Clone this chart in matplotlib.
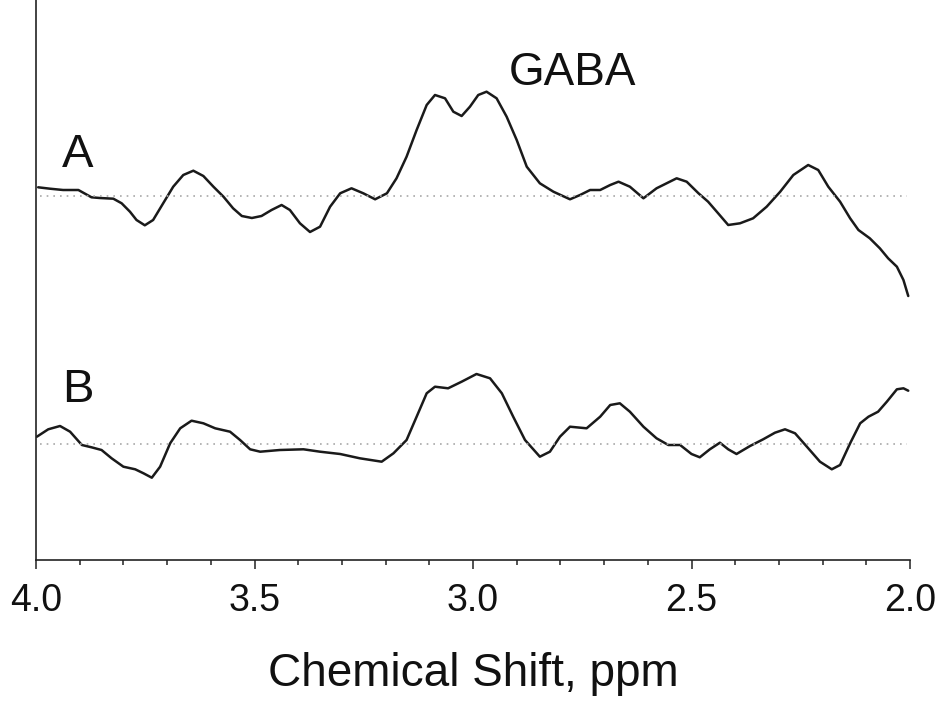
import matplotlib
matplotlib.use("Agg")
import matplotlib.pyplot as plt
import numpy as np
from matplotlib.ticker import MultipleLocator

# ---- data (chemical shift in ppm, intensity in arbitrary units relative to each baseline) ----
ppm_a = [3.995, 3.968, 3.938, 3.903, 3.873, 3.854, 3.823, 3.804, 3.785, 3.770,
         3.751, 3.732, 3.709, 3.686, 3.663, 3.640, 3.617, 3.594, 3.571, 3.549,
         3.529, 3.506, 3.484, 3.461, 3.438, 3.419, 3.396, 3.373,
         3.350, 3.327, 3.304, 3.278, 3.251, 3.224, 3.197, 3.175, 3.152, 3.129,
         3.106, 3.087, 3.064, 3.045, 3.026, 3.007, 2.988, 2.969, 2.946, 2.923,
         2.900, 2.877, 2.847, 2.816, 2.778, 2.755, 2.732, 2.709, 2.686, 2.667,
         2.641, 2.610, 2.580, 2.534, 2.511, 2.484, 2.462, 2.439, 2.416, 2.389,
         2.359, 2.328, 2.297, 2.267, 2.233, 2.210, 2.187, 2.160, 2.137, 2.118,
         2.092, 2.069, 2.050, 2.030, 2.015, 2.004]
amp_a = [8.7, 7.3, 6.0, 6.0, -1.3, -2.0, -2.7, -7.3, -15.7, -24.0,
         -29.3, -24.0, -7.3, 9.3, 21.0, 25.3, 20.0, 9.3, -0.7, -12.3,
         -20.0, -22.0, -20.0, -14.0, -9.0, -14.0, -27.3, -36.0,
         -30.7, -10.7, 2.7, 7.7, 2.7, -3.3, 2.7, 17.7, 39.3, 66.0,
         91.0, 101.0, 97.7, 84.3, 80.0, 89.3, 101.0, 104.3, 97.7, 79.3,
         56.0, 29.3, 12.7, 4.3, -3.3, 1.0, 6.0, 6.0, 11.0, 14.3,
         9.3, -2.3, 7.7, 17.7, 14.3, 2.7, -5.7, -17.3, -29.0, -27.3,
         -22.3, -10.7, 4.3, 21.0, 31.0, 26.0, 9.3, -5.7, -22.3, -34.0,
         -42.3, -52.3, -62.3, -70.7, -84.0, -100.0]

ppm_b = [3.998, 3.972, 3.945, 3.922, 3.895, 3.873, 3.850, 3.827, 3.800, 3.773,
         3.754, 3.735, 3.716, 3.693, 3.670, 3.644, 3.617, 3.590, 3.556, 3.533,
         3.510, 3.487, 3.442, 3.388,
         3.350, 3.304, 3.259, 3.209, 3.182, 3.152, 3.129, 3.106, 3.087, 3.057,
         3.026, 2.992, 2.961, 2.934, 2.908, 2.881, 2.847, 2.824, 2.801, 2.778,
         2.740, 2.709,
         2.686, 2.664, 2.641, 2.610, 2.580, 2.553, 2.526, 2.500, 2.481, 2.458,
         2.435, 2.416, 2.397, 2.366, 2.336, 2.309, 2.286, 2.263, 2.236, 2.206,
         2.179, 2.160, 2.137, 2.114, 2.095, 2.073, 2.053, 2.030, 2.015, 2.004]
amp_b = [7.3, 14.7, 18.0, 12.3, -1.0, -3.3, -6.0, -14.3, -22.7, -25.3,
         -29.3, -33.7, -22.7, 0.7, 15.7, 23.3, 20.7, 15.7, 12.3, 4.0,
         -5.3, -7.7, -6.0, -5.3,
         -7.7, -10.0, -14.3, -17.7, -9.3, 4.0, 27.3, 50.7, 57.3, 55.7,
         62.3, 70.0, 65.7, 50.7, 27.3, 4.0, -12.7, -7.7, 7.3, 17.3,
         15.7, 27.3,
         39.0, 40.7, 32.3, 17.3, 5.7, -1.0, -1.0, -10.0, -13.3, -5.3,
         1.3, -5.3, -10.0, -2.0, 4.7, 11.3, 14.7, 10.7, -2.7, -17.7,
         -25.3, -21.0, 0.7, 20.7, 27.3, 32.3, 42.3, 54.7, 55.7, 53.3]

trace_labels = ["A", "B"]
peak_label = "GABA"
xtick_values = [4.0, 3.5, 3.0, 2.5, 2.0]
xlabel = "Chemical Shift, ppm"

# ---- layout ----
offset_a = 364
offset_b = 116

fig = plt.figure(figsize=(9.45, 7.02), dpi=100)
ax = fig.add_axes([36 / 945, (702 - 560) / 702, 874 / 945, 560 / 702])

line_kw = dict(color="#1a1a1a", lw=1.8, solid_joinstyle="round", solid_capstyle="round")
ax.plot(ppm_a, np.array(amp_a) + offset_a, **line_kw)
ax.plot(ppm_b, np.array(amp_b) + offset_b, **line_kw)

dot_kw = dict(color="#a8a8a8", lw=1.2, linestyle=(0, (1, 3)))
for off in (offset_a, offset_b):
    ax.plot([3.99, 2.007], [off, off], **dot_kw)

ax.set_xlim(4.0, 2.0)
ax.set_ylim(0, 560)

for s in ("top", "right"):
    ax.spines[s].set_visible(False)
for s in ("left", "bottom"):
    ax.spines[s].set_linewidth(1.2)
    ax.spines[s].set_color("#222222")
ax.set_yticks([])

ax.set_xticks(xtick_values)
ax.set_xticklabels([f"{v:.1f}" for v in xtick_values])
ax.xaxis.set_minor_locator(MultipleLocator(0.1))
ax.tick_params(axis="x", which="major", direction="out", length=6.5, width=1.1,
               color="#222222", pad=10, labelsize=27, labelcolor="#111111")
ax.tick_params(axis="x", which="minor", direction="out", length=3.6, width=1.1,
               color="#222222")
for lab in ax.get_xticklabels():
    lab.set_fontfamily("Liberation Sans")

ax.set_xlabel(xlabel, fontsize=33, fontfamily="Liberation Sans", color="#111111")
ax.xaxis.set_label_coords(0.5, (560 - 686) / 560)
ax.xaxis.label.set_va("baseline")

ax.text(2.773, 475, peak_label, fontsize=33, fontfamily="Liberation Sans",
        ha="center", va="baseline", color="#111111")
ax.text(3.94, 393, trace_labels[0], fontsize=34, fontfamily="Liberation Sans",
        ha="left", va="baseline", color="#111111")
ax.text(3.94, 158, trace_labels[1], fontsize=34, fontfamily="Liberation Sans",
        ha="left", va="baseline", color="#111111")

fig.savefig("out.png", dpi=100, facecolor="white")
